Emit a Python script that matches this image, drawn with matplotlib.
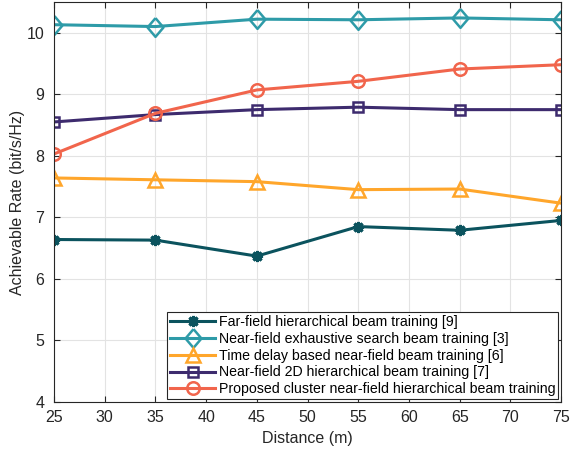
import numpy as np
import matplotlib
matplotlib.use('Agg')
import matplotlib.pyplot as plt

plt.rcParams['font.family'] = ['Liberation Sans', 'DejaVu Sans']

distance = [25, 35, 45, 55, 65, 75]

far_field = [6.64, 6.63, 6.37, 6.85, 6.79, 6.95]
exhaustive = [10.13, 10.10, 10.22, 10.21, 10.24, 10.21]
time_delay = [7.64, 7.61, 7.58, 7.45, 7.46, 7.23]
hier_2d = [8.55, 8.67, 8.75, 8.79, 8.75, 8.75]
proposed = [8.03, 8.69, 9.07, 9.21, 9.41, 9.48]

labels = [
    'Far-field hierarchical beam training [9]',
    'Near-field exhaustive search beam training [3]',
    'Time delay based near-field beam training [6]',
    'Near-field 2D hierarchical beam training [7]',
    'Proposed cluster near-field hierarchical beam training',
]

# slightly tall diamond like matlab's
diamond = [(0, 1), (0.85, 0), (0, -1), (-0.85, 0), (0, 1)]

fig = plt.figure(figsize=(5.71, 4.5), dpi=100)
ax = fig.add_axes([0.0946, 0.1067, 0.888, 0.889])

lw = 2.2
ax.plot(distance, far_field, color='#0b535e', lw=lw, marker=(8, 2, 0), ms=8, mew=2.2, label=labels[0])
ax.plot(distance, exhaustive, color='#2e9ba8', lw=lw, marker=diamond, ms=13.5, mfc='none', mew=1.8, label=labels[1])
ax.plot(distance, time_delay, color='#ffa62b', lw=lw, marker='^', ms=9.5, mfc='none', mew=1.8, label=labels[2])
ax.plot(distance, hier_2d, color='#3d2b6e', lw=lw, marker='s', ms=7, mfc='none', mew=1.8, label=labels[3])
ax.plot(distance, proposed, color='#f1654c', lw=lw, marker='o', ms=9, mfc='none', mew=1.8, label=labels[4])

ax.set_xlim(25, 75)
ax.set_ylim(4, 10.5)
ax.set_xticks(np.arange(25, 76, 5))
ax.set_yticks(np.arange(4, 11, 1))
ax.grid(True, color='#e3e3e3', lw=0.8)
ax.set_axisbelow(True)
ax.tick_params(direction='in', top=True, right=True, labelsize=11.5, length=4,
               color='#262626', labelcolor='#262626')
ax.tick_params(axis='x', pad=6)
ax.tick_params(axis='y', pad=7)
for s in ax.spines.values():
    s.set_color('#262626')
    s.set_linewidth(0.8)
ax.set_xlabel('Distance (m)', fontsize=11.5, color='#262626', labelpad=4)
ax.set_ylabel('Achievable Rate (bit/s/Hz)', fontsize=11.5, color='#262626', labelpad=1)

leg = ax.legend(loc='lower right', fontsize=10.2, fancybox=False, edgecolor='#262626',
                framealpha=1, borderpad=0.2, labelspacing=0.2, handlelength=3.2,
                handletextpad=0.25, borderaxespad=0.2)
leg.get_frame().set_linewidth(0.8)

fig.savefig('out.png', dpi=100)
